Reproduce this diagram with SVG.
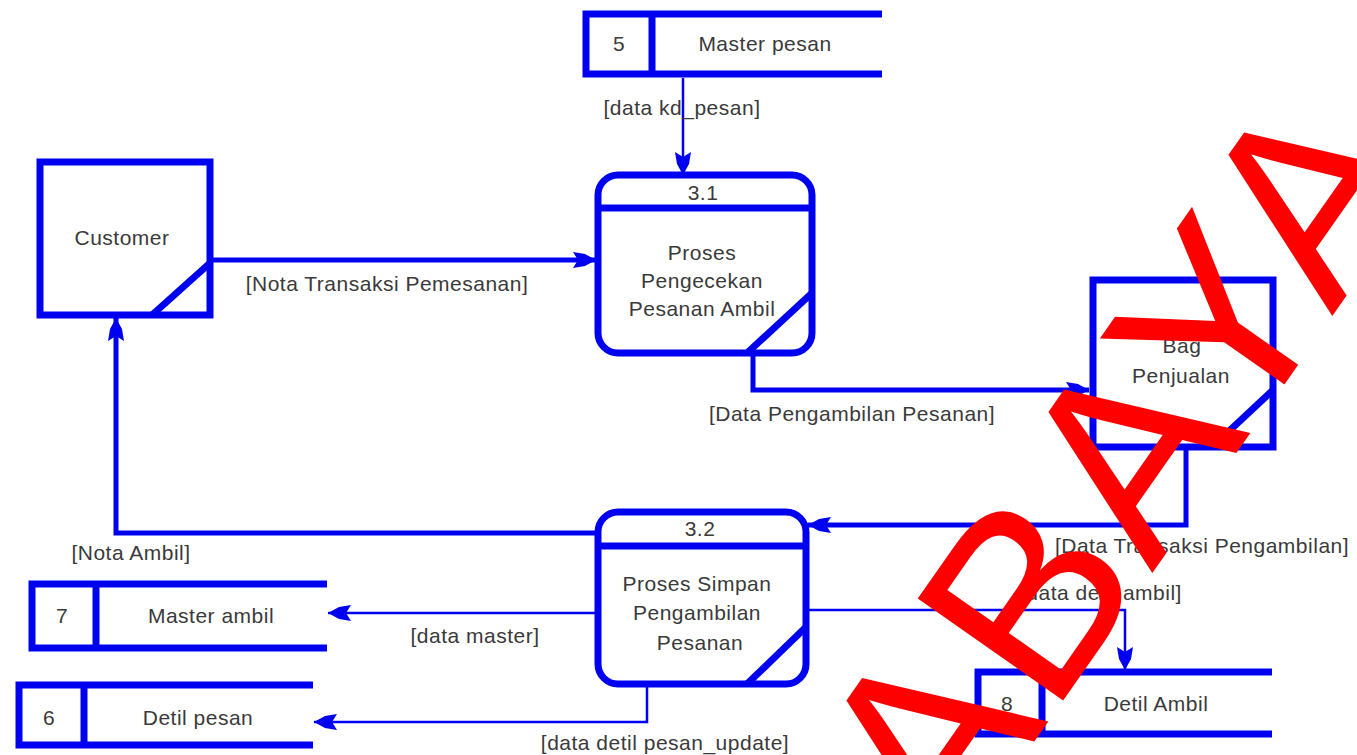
<svg xmlns="http://www.w3.org/2000/svg" width="1357" height="755" viewBox="0 0 1357 755">
  <style>
    .box { fill: #ffffff; stroke: #0000f0; stroke-width: 7; }
    .edge { fill: none; stroke: #0000f0; stroke-width: 7; }
    .flow { fill: none; stroke: #0000f0; stroke-linejoin: miter; }
    .thick { stroke-width: 5; }
    .thin { stroke-width: 2.5; }
    .lbl { font-family: "Liberation Sans", Arial, sans-serif; font-size: 21px; letter-spacing: 0.5px; fill: #3a3a3a; text-anchor: middle; dominant-baseline: central; }
    .mark { font-family: "Liberation Sans", Arial, sans-serif; font-size: 258px; letter-spacing: 4px; fill: #ff0000; }
  </style>
  <defs>
    <marker id="head" markerUnits="userSpaceOnUse" markerWidth="30" markerHeight="24" viewBox="-26 -12 30 24" refX="0" refY="0" orient="auto">
      <path d="M0,0 L-11,-6 L-23,-8 L-18,0 L-23,8 L-11,6 Z" fill="#0000f0"/>
    </marker>
  </defs>

  <rect width="1357" height="755" fill="#ffffff"/>

  <!-- data flows -->
  <g id="connectors">
    <path class="flow thin" d="M683,78 V175" marker-end="url(#head)"/>
    <path class="flow thick" d="M210,260 H596" marker-end="url(#head)"/>
    <path class="flow thick" d="M753,356 V390 H1089" marker-end="url(#head)"/>
    <path class="flow thick" d="M1186,450 V525 H808" marker-end="url(#head)"/>
    <path class="flow thick" d="M596,533 H116 V318" marker-end="url(#head)"/>
    <path class="flow thin" d="M596,613 H328" marker-end="url(#head)"/>
    <path class="flow thin" d="M647,687 V722 H314" marker-end="url(#head)"/>
    <path class="flow thin" d="M808,610 H1125 V670" marker-end="url(#head)"/>

    <text class="lbl" x="682" y="107">[data kd_pesan]</text>
    <text class="lbl" x="387" y="283">[Nota Transaksi Pemesanan]</text>
    <text class="lbl" x="852" y="413">[Data Pengambilan Pesanan]</text>
    <text class="lbl" x="1202" y="545">[Data Transaksi Pengambilan]</text>
    <text class="lbl" x="131" y="552">[Nota Ambil]</text>
    <text class="lbl" x="1101" y="592">[data detil ambil]</text>
    <text class="lbl" x="475" y="635">[data master]</text>
    <text class="lbl" x="665" y="742">[data detil pesan_update]</text>
  </g>

  <!-- external entities -->
  <g id="customer">
    <rect class="box" x="40" y="162" width="170" height="153"/>
    <line class="edge" x1="152" y1="315" x2="210" y2="263"/>
    <text class="lbl" x="122" y="237">Customer</text>
  </g>

  <g id="bag-penjualan">
    <rect class="box" x="1093" y="280" width="180" height="167"/>
    <line class="edge" x1="1212" y1="447" x2="1273" y2="390"/>
    <text class="lbl" x="1182" y="345">Bag</text>
    <text class="lbl" x="1181" y="375">Penjualan</text>
  </g>

  <!-- processes -->
  <g id="proses-3-1">
    <rect class="box" x="598" y="175" width="214" height="178" rx="20" ry="20"/>
    <line class="edge" x1="598" y1="208" x2="812" y2="208"/>
    <line class="edge" x1="747" y1="353" x2="812" y2="293"/>
    <text class="lbl" x="703" y="192">3.1</text>
    <text class="lbl" x="702" y="252">Proses</text>
    <text class="lbl" x="702" y="280">Pengecekan</text>
    <text class="lbl" x="702" y="308">Pesanan Ambil</text>
  </g>

  <g id="proses-3-2">
    <rect class="box" x="598" y="512" width="208" height="172" rx="20" ry="20"/>
    <line class="edge" x1="598" y1="546" x2="806" y2="546"/>
    <line class="edge" x1="747" y1="684" x2="806" y2="627"/>
    <text class="lbl" x="700" y="528">3.2</text>
    <text class="lbl" x="697" y="583">Proses Simpan</text>
    <text class="lbl" x="697" y="612">Pengambilan</text>
    <text class="lbl" x="700" y="642">Pesanan</text>
  </g>

  <!-- data stores -->
  <g id="store-5">
    <path class="edge" d="M882,14 H586 V74 H882 M652,14 V74"/>
    <text class="lbl" x="619" y="43">5</text>
    <text class="lbl" x="765" y="43">Master pesan</text>
  </g>

  <g id="store-7">
    <path class="edge" d="M327,584 H32 V648 H327 M96,584 V648"/>
    <text class="lbl" x="62" y="615">7</text>
    <text class="lbl" x="211" y="615">Master ambil</text>
  </g>

  <g id="store-6">
    <path class="edge" d="M313,685 H19 V745 H313 M84,685 V745"/>
    <text class="lbl" x="49" y="717">6</text>
    <text class="lbl" x="198" y="717">Detil pesan</text>
  </g>

  <g id="store-8">
    <path class="edge" d="M1272,672 H978 V734 H1272 M1042,672 V734"/>
    <text class="lbl" x="1007" y="703">8</text>
    <text class="lbl" x="1156" y="703">Detil Ambil</text>
  </g>

  <!-- stamp across the page -->
  <text class="mark" transform="translate(950,862) rotate(-55)">ABAYA</text>
</svg>
